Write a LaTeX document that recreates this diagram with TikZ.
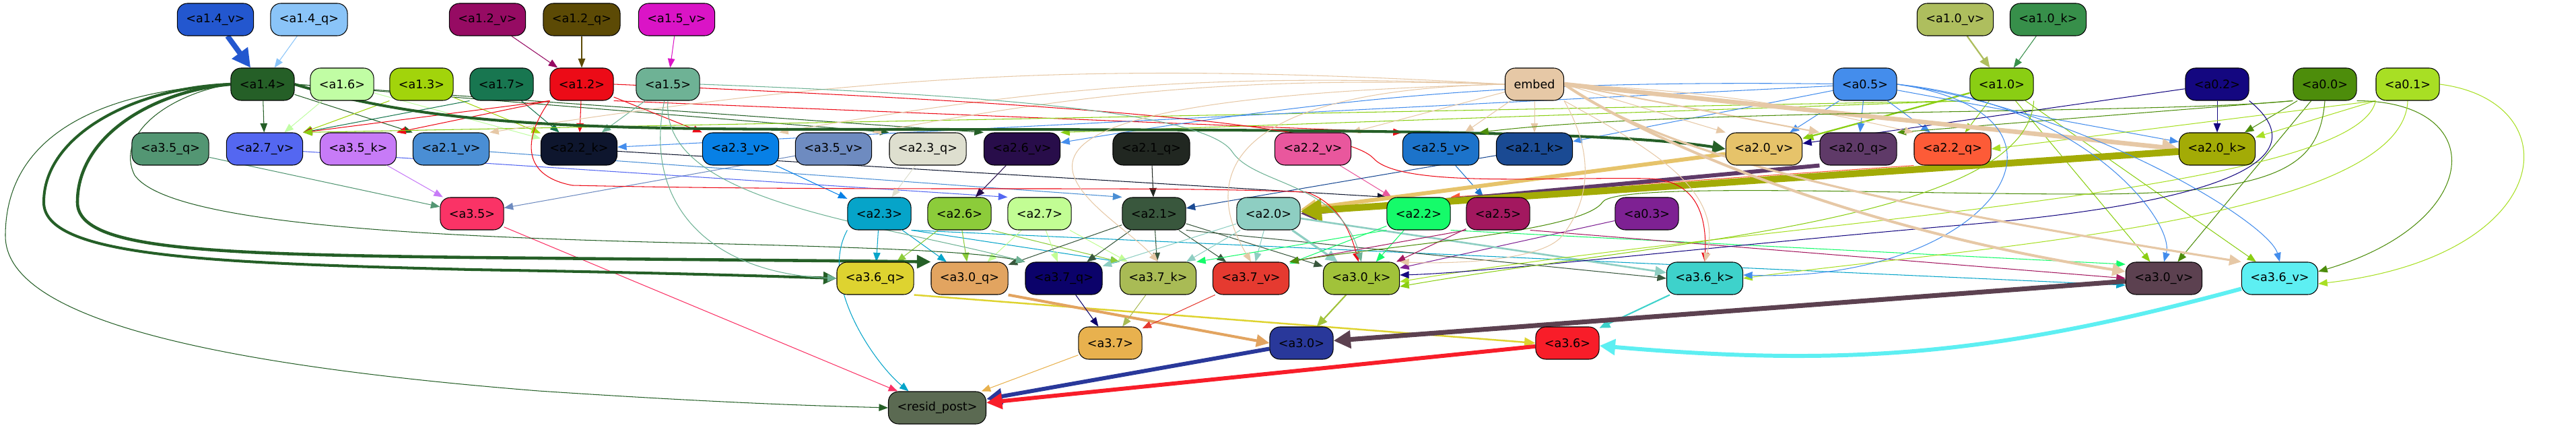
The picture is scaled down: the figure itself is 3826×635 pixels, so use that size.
\documentclass[tikz,border=0pt]{standalone}
\usepackage{fontspec}
\setmainfont{DejaVu Sans}
\usetikzlibrary{arrows.meta,backgrounds}

\definecolor{ca14v}{HTML}{2357CF}
\definecolor{ca14q}{HTML}{8AC4F8}
\definecolor{ca12v}{HTML}{960B63}
\definecolor{ca12q}{HTML}{5C4A05}
\definecolor{ca15v}{HTML}{DA14C6}
\definecolor{ca10v}{HTML}{AEBE5E}
\definecolor{ca10k}{HTML}{378F4A}
\definecolor{ca14}{HTML}{255F27}
\definecolor{ca16}{HTML}{C1FDA4}
\definecolor{ca13}{HTML}{A2D40B}
\definecolor{ca17}{HTML}{187650}
\definecolor{ca12}{HTML}{EC0B17}
\definecolor{ca15}{HTML}{6EB295}
\definecolor{cembed}{HTML}{E6C8A6}
\definecolor{ca05}{HTML}{448DEC}
\definecolor{ca10}{HTML}{8ACE13}
\definecolor{ca02}{HTML}{140780}
\definecolor{ca00}{HTML}{4D8D0B}
\definecolor{ca01}{HTML}{A8DF24}
\definecolor{ca35q}{HTML}{539673}
\definecolor{ca27v}{HTML}{5467F1}
\definecolor{ca35k}{HTML}{C77BF7}
\definecolor{ca21v}{HTML}{4A8ED4}
\definecolor{ca22k}{HTML}{0E162E}
\definecolor{ca23v}{HTML}{0780E6}
\definecolor{ca35v}{HTML}{6E8BC0}
\definecolor{ca23q}{HTML}{DEDFCF}
\definecolor{ca26v}{HTML}{280D4A}
\definecolor{ca21q}{HTML}{212721}
\definecolor{ca22v}{HTML}{E9579D}
\definecolor{ca25v}{HTML}{1C73CA}
\definecolor{ca21k}{HTML}{1A4A93}
\definecolor{ca20v}{HTML}{E6C36A}
\definecolor{ca20q}{HTML}{5F3A68}
\definecolor{ca22q}{HTML}{FD5B37}
\definecolor{ca20k}{HTML}{A3AB06}
\definecolor{ca35}{HTML}{FA3366}
\definecolor{ca23}{HTML}{06A4C9}
\definecolor{ca26}{HTML}{8CCC3A}
\definecolor{ca27}{HTML}{C2FD94}
\definecolor{ca21}{HTML}{39573D}
\definecolor{ca20}{HTML}{8ECEC2}
\definecolor{ca22}{HTML}{15FB6A}
\definecolor{ca25}{HTML}{A3185F}
\definecolor{ca03}{HTML}{7E2193}
\definecolor{ca36q}{HTML}{DED330}
\definecolor{ca30q}{HTML}{E2A460}
\definecolor{ca37q}{HTML}{0B026A}
\definecolor{ca37k}{HTML}{A9BB55}
\definecolor{ca37v}{HTML}{E53A30}
\definecolor{ca30k}{HTML}{A1C23A}
\definecolor{ca36k}{HTML}{3ED2CB}
\definecolor{ca30v}{HTML}{5C4150}
\definecolor{ca36v}{HTML}{5DEFF2}
\definecolor{ca37}{HTML}{E8B14E}
\definecolor{ca30}{HTML}{29389A}
\definecolor{ca36}{HTML}{F81D29}
\definecolor{cresid}{HTML}{5B6A52}

\begin{document}
\begin{tikzpicture}[x=0.02cm, y=0.02cm,
  box/.style={draw=black, line width=0.6pt, rounded corners=0.3cm, minimum height=0.96cm,
    inner xsep=0.26cm, font=\fontsize{10}{12}\selectfont, fill=#1},
  con/.style={draw=#1, line width=0.6pt, -{Triangle[length=6.5pt 2, width=4.5pt 2.5]}},
  lw/.style={line width=#1pt}]
  \useasboundingbox (0,0) rectangle (3826,635);

  \node[box=ca14v] (a14v) at (320,606) {<a1.4\_v>};
  \node[box=ca14q] (a14q) at (459,606) {<a1.4\_q>};
  \node[box=ca12v] (a12v) at (724,606) {<a1.2\_v>};
  \node[box=ca12q] (a12q) at (864,606) {<a1.2\_q>};
  \node[box=ca15v] (a15v) at (1005,606) {<a1.5\_v>};
  \node[box=ca10v] (a10v) at (2904,606) {<a1.0\_v>};
  \node[box=ca10k] (a10k) at (3042,606) {<a1.0\_k>};

  \node[box=ca14] (a14) at (390,510) {<a1.4>};
  \node[box=ca16] (a16) at (508,510) {<a1.6>};
  \node[box=ca13] (a13) at (626,510) {<a1.3>};
  \node[box=ca17] (a17) at (745,510) {<a1.7>};
  \node[box=ca12] (a12) at (864,510) {<a1.2>};
  \node[box=ca15] (a15) at (992,510) {<a1.5>};
  \node[box=cembed] (embed) at (2279,510) {embed};
  \node[box=ca05] (a05) at (2770,510) {<a0.5>};
  \node[box=ca10] (a10) at (2973,510) {<a1.0>};
  \node[box=ca02] (a02) at (3293,510) {<a0.2>};
  \node[box=ca00] (a00) at (3453,510) {<a0.0>};
  \node[box=ca01] (a01) at (3576,510) {<a0.1>};

  \node[box=ca35q] (a35q) at (253,414) {<a3.5\_q>};
  \node[box=ca27v] (a27v) at (393,414) {<a2.7\_v>};
  \node[box=ca35k] (a35k) at (532,414) {<a3.5\_k>};
  \node[box=ca21v] (a21v) at (670,414) {<a2.1\_v>};
  \node[box=ca22k] (a22k) at (860,414) {<a2.2\_k>};
  \node[box=ca23v] (a23v) at (1100,414) {<a2.3\_v>};
  \node[box=ca35v] (a35v) at (1238,414) {<a3.5\_v>};
  \node[box=ca23q] (a23q) at (1378,414) {<a2.3\_q>};
  \node[box=ca26v] (a26v) at (1518,414) {<a2.6\_v>};
  \node[box=ca21q] (a21q) at (1710,414) {<a2.1\_q>};
  \node[box=ca22v] (a22v) at (1950,414) {<a2.2\_v>};
  \node[box=ca25v] (a25v) at (2140,414) {<a2.5\_v>};
  \node[box=ca21k] (a21k) at (2279,414) {<a2.1\_k>};
  \node[box=ca20v] (a20v) at (2620,414) {<a2.0\_v>};
  \node[box=ca20q] (a20q) at (2760,414) {<a2.0\_q>};
  \node[box=ca22q] (a22q) at (2900,414) {<a2.2\_q>};
  \node[box=ca20k] (a20k) at (3293,414) {<a2.0\_k>};

  \node[box=ca35] (a35) at (701,318) {<a3.5>};
  \node[box=ca23] (a23) at (1306,318) {<a2.3>};
  \node[box=ca26] (a26) at (1425,318) {<a2.6>};
  \node[box=ca27] (a27) at (1544,318) {<a2.7>};
  \node[box=ca21] (a21) at (1714,318) {<a2.1>};
  \node[box=ca20] (a20) at (1884,318) {<a2.0>};
  \node[box=ca22] (a22) at (2107,318) {<a2.2>};
  \node[box=ca25] (a25) at (2225,318) {<a2.5>};
  \node[box=ca03] (a03) at (2446,318) {<a0.3>};

  \node[box=ca36q] (a36q) at (1300,222) {<a3.6\_q>};
  \node[box=ca30q] (a30q) at (1440,222) {<a3.0\_q>};
  \node[box=ca37q] (a37q) at (1580,222) {<a3.7\_q>};
  \node[box=ca37k] (a37k) at (1720,222) {<a3.7\_k>};
  \node[box=ca37v] (a37v) at (1858,222) {<a3.7\_v>};
  \node[box=ca30k] (a30k) at (2022,222) {<a3.0\_k>};
  \node[box=ca36k] (a36k) at (2532,222) {<a3.6\_k>};
  \node[box=ca30v] (a30v) at (3214,222) {<a3.0\_v>};
  \node[box=ca36v] (a36v) at (3386,222) {<a3.6\_v>};

  \node[box=ca37] (a37) at (1649,126) {<a3.7>};
  \node[box=ca30] (a30) at (1933,126) {<a3.0>};
  \node[box=ca36] (a36) at (2328,126) {<a3.6>};

  \node[box=cresid] (resid) at (1392,30) {<resid\_post>};

  \begin{scope}[on background layer]
  \path
  (a14v) edge[con=ca14v, lw=4.5] (a14)
  (a14q) edge[con=ca14q] (a14)
  (a12v) edge[con=ca12v] (a12)
  (a12q) edge[con=ca12q] (a12)
  (a15v) edge[con=ca15v] (a15)
  (a10v) edge[con=ca10v, lw=1.3] (a10)
  (a10k) edge[con=ca10k] (a10);

  \path
  (a14) edge[con=ca14] (a27v)
  (a14) edge[con=ca14] (a21v.north west)
  (a14.east) edge[con=ca14] (a23q.north west)
  (a14.east) edge[con=ca14] (a26v.north west)
  (a16) edge[con=ca16] (a27v)
  (a16) edge[con=ca16] (a22k)
  (a13.south west) edge[con=ca13] (a27v.north east)
  (a13) edge[con=ca13] (a22k)
  (a17.south west) edge[con=ca17] (a27v.north east)
  (a17) edge[con=ca17] (a22k)
  (a12.south west) edge[con=ca12] (a27v.north east)
  (a12.south west) edge[con=ca12] (a35k.north east)
  (a12) edge[con=ca12] (a22k)
  (a12) edge[con=ca12] (a23v.north west)
  (a12.south east) edge[con=ca12] (a25v.north west)
  (a15) edge[con=ca15] (a22k);

  \path
  (a10.south west) edge[con=ca10] (a27v.north east)
  (a10.south west) edge[con=ca10] (a26v.north east)
  (a10) edge[con=ca10, lw=1.3] (a20v)
  (a10) edge[con=ca10] (a22q)
  (a10) edge[con=ca10] (a30v)
  (a10) edge[con=ca10] (a36v)
  (a05) edge[con=ca05] (a22k)
  (a05) edge[con=ca05] (a21k)
  (a05) edge[con=ca05, bend right=5] (a26v)
  (a05) edge[con=ca05] (a20v)
  (a05) edge[con=ca05] (a20q)
  (a05) edge[con=ca05] (a22q)
  (a05) edge[con=ca05] (a20k)
  (a02) edge[con=ca02] (a20v)
  (a02) edge[con=ca02] (a20k)
  (a00.south west) edge[con=ca00] (a20q.north east)
  (a00) edge[con=ca00] (a20k)
  (a00) edge[con=ca00] (a30v)
  (a01.south west) edge[con=ca01] (a22q.east)
  (a01.south west) edge[con=ca01] (a20k)
  (a03) edge[con=ca03] (a30k.15);

  \path
  (embed) edge[con=cembed] (a22v.north east)
  (embed) edge[con=cembed] (a25v)
  (embed) edge[con=cembed] (a21k)
  (embed.west) edge[con=cembed, bend right=6] (a23v.north east)
  (embed.west) edge[con=cembed, bend right=6] (a35v.north east)
  (embed.west) edge[con=cembed, bend right=6] (a21v.north east)
  (embed.east) edge[con=cembed] (a20v.north west)
  (embed.east) edge[con=cembed, lw=1.2] (a20q.north west)
  (embed.east) edge[con=cembed, bend left=5] (a22q.north west)
  (embed.east) edge[con=cembed, lw=3.8] (a20k.west);

  \path
  (a35q) edge[con=ca35q] (a35)
  (a35k) edge[con=ca35k] (a35)
  (a35v) edge[con=ca35v] (a35)
  (a27v) edge[con=ca27v] (a27.north west)
  (a21v) edge[con=ca21v] (a21.north west)
  (a22k) edge[con=ca22k] (a22.north west)
  (a23v) edge[con=ca23v] (a23)
  (a23q) edge[con=ca23q] (a23)
  (a26v) edge[con=ca26v] (a26)
  (a21q) edge[con=ca21q] (a21)
  (a22v) edge[con=ca22v] (a22)
  (a25v) edge[con=ca25v] (a25)
  (a21k) edge[con=ca21k] (a21)
  (a22q.south west) edge[con=ca22q] (a22.north east)
  (a20v) edge[con=ca20v, lw=3.4] (a20)
  (a20q.south west) edge[con=ca20q, lw=3.4] (a20.east)
  (a20k) edge[con=ca20k, lw=5.7] (a20);

  \path
  (a23) edge[con=ca23] (a36q)
  (a23) edge[con=ca23] (a30q)
  (a23.south east) edge[con=ca23] (a37k.north west)
  (a23.south east) edge[con=ca23] (a30v.190)
  (a26) edge[con=ca26] (a36q)
  (a26) edge[con=ca26] (a30q)
  (a26.south east) edge[con=ca26] (a37k.north west)
  (a27) edge[con=ca27] (a30q)
  (a27) edge[con=ca27] (a37q)
  (a27) edge[con=ca27] (a37k)
  (a21) edge[con=ca21] (a37k)
  (a21) edge[con=ca21] (a37q)
  (a21) edge[con=ca21] (a30q)
  (a21) edge[con=ca21] (a37v)
  (a21) edge[con=ca21] (a30k)
  (a21.south east) edge[con=ca21] (a36k.west)
  (a20) edge[con=ca20] (a37q)
  (a20) edge[con=ca20] (a37k)
  (a20) edge[con=ca20] (a37v)
  (a20) edge[con=ca20, lw=1.8] (a30k)
  (a20) edge[con=ca20, lw=1.5] (a36k)
  (a22) edge[con=ca22] (a30k)
  (a22) edge[con=ca22] (a37v)
  (a22.south west) edge[con=ca22] (a37k.north east)
  (a22.south east) edge[con=ca22] (a30v.160)
  (a25) edge[con=ca25] (a30k)
  (a25.south west) edge[con=ca25] (a37v.north east)
  (a25.south east) edge[con=ca25] (a30v.west);

  \path
  (a36q.south east) edge[con=ca36q, lw=1.4] (a36.west)
  (a30q.south east) edge[con=ca30q, lw=2.3] (a30.west)
  (a37q) edge[con=ca37q] (a37)
  (a37k) edge[con=ca37k] (a37)
  (a37v) edge[con=ca37v] (a37)
  (a30k) edge[con=ca30k, lw=1.2] (a30)
  (a36k) edge[con=ca36k, lw=1.2] (a36)
  (a30v) edge[con=ca30v, lw=4] (a30)
  (a36v) edge[con=ca36v, lw=3.4, bend left=10] (a36)
  (a35) edge[con=ca35] (resid)
  (a37) edge[con=ca37] (resid)
  (a30) edge[con=ca30, lw=3.4] (resid)
  (a36) edge[con=ca36, lw=3.4] (resid);

  \draw[con=ca14, lw=2.3] (a14.west) .. controls (200,505) and (65,435) .. (65,335) .. controls (65,255) and (300,245) .. (700,235) .. controls (1000,230) and (1150,225) .. (a36q.west);
  \draw[con=ca14, lw=2.6] (a14.west) .. controls (230,500) and (115,435) .. (115,335) .. controls (115,265) and (300,258) .. (700,253) .. controls (1000,250) and (1250,248) .. (a30q.north west);
  \draw[con=ca14] (a14.west) .. controls (250,495) and (170,435) .. (200,375) .. controls (250,305) and (600,285) .. (1000,275) .. controls (1300,268) and (1450,262) .. (a37q.north west);
  \draw[con=ca14] (a14.west) .. controls (150,500) and (8,435) .. (8,285) .. controls (8,165) and (300,95) .. (800,55) .. controls (1100,35) and (1250,32) .. (resid.west);
  \draw[con=ca14, lw=2.3] (a14.east) .. controls (650,445) and (900,443) .. (1300,443) .. controls (2000,443) and (2400,440) .. (a20v.west);

  \draw[con=ca12] (a12.south west) .. controls (780,435) and (770,375) .. (850,360) .. controls (1300,350) and (1700,360) .. (1940,350) .. controls (1985,335) and (2005,295) .. (a30k.100);
  \draw[con=ca12] (a12.east) .. controls (1500,485) and (1990,455) .. (2040,400) .. controls (2080,356) and (2300,373) .. (2450,370) .. controls (2520,367) and (2535,315) .. (a36k.north);
  \draw[con=ca15] (a15.east) .. controls (1450,495) and (1790,470) .. (1830,410) .. controls (1863,360) and (1990,365) .. (a30k.north);
  \draw[con=ca15] (a15) .. controls (955,335) and (1050,230) .. (a36q.west);
  \draw[con=ca15] (a15.south) .. controls (980,335) and (1300,305) .. (a37q.north west);

  \draw[con=ca00] (a00.south west) .. controls (3200,465) and (2500,475) .. (a25v.north east);
  \draw[con=ca00] (a00.south east) .. controls (3700,485) and (3690,305) .. (a36v.10);
  \draw[con=ca00] (a00.south) .. controls (3445,395) and (3400,347) .. (3100,347) .. controls (2800,347) and (2400,365) .. (2380,335) .. controls (2350,290) and (2050,270) .. (a37v.north east);
  \draw[con=ca01] (a01.south west) .. controls (3500,345) and (2600,305) .. (a30k.-5);
  \draw[con=ca01] (a01.south) .. controls (3570,305) and (2900,265) .. (a36k.east);
  \draw[con=ca01] (a01.east) .. controls (3820,485) and (3800,255) .. (a36v.-8);
  \draw[con=ca02] (a02.south east) .. controls (3440,405) and (3330,335) .. (2900,300) .. controls (2500,265) and (2200,230) .. (a30k.5);
  \draw[con=ca05] (a05.east) .. controls (3100,480) and (3230,305) .. (a30v.north);
  \draw[con=ca05] (a05.east) .. controls (3100,470) and (3370,305) .. (a36v.north);
  \draw[con=ca05] (a05.east) .. controls (3130,465) and (2960,215) .. (a36k.5);
  \draw[con=ca10] (a10.south east) .. controls (3010,305) and (2450,275) .. (a30k.-12);

  \draw[con=cembed, lw=2.3] (embed.east) .. controls (2450,425) and (2750,295) .. (a30v.170);
  \draw[con=cembed, lw=1.8] (embed.east) .. controls (2500,385) and (2900,315) .. (a36v.north west);
  \draw[con=cembed] (embed.west) .. controls (1300,485) and (1640,335) .. (a37k.north);
  \draw[con=cembed] (embed.west) .. controls (1760,500) and (1805,335) .. (a37v.north);
  \draw[con=cembed] (embed.south east) .. controls (2370,405) and (2360,335) .. (2320,285) .. controls (2290,247) and (2150,243) .. (a30k.north east);
  \draw[con=cembed] (embed.south east) .. controls (2450,415) and (2560,355) .. (a36k.north);
  \draw[con=ca23] (a23.south west) .. controls (1215,215) and (1300,95) .. (resid.150);
  \end{scope}
\end{tikzpicture}
\end{document}
